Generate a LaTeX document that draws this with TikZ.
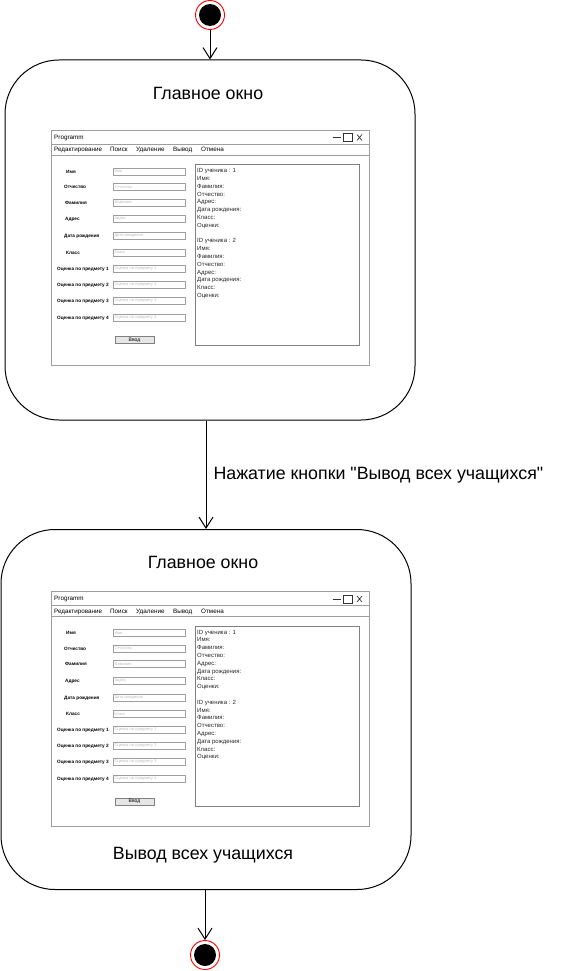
\documentclass[tikz,border=0pt]{standalone}
\usepackage{fontspec}
\setmainfont{Liberation Sans}
% straight double quotes are kept as typed in this family
\newfontfamily\quotefont{Liberation Sans}[Ligatures=TeXOff]
\usetikzlibrary{arrows.meta}

\definecolor{frame}{HTML}{9E9E9E}
\definecolor{boxline}{HTML}{808080}
\definecolor{hint}{HTML}{BDBDBD}
\definecolor{btnfill}{HTML}{E6E6E6}

\tikzset{
  % UML state with large rounded corners
  state/.style={draw=black, line width=1pt, fill=white, rounded corners=54pt,
    minimum width=410pt, minimum height=360pt, inner sep=0pt},
  statetitle/.style={font=\fontsize{17.8}{21}\selectfont, inner sep=0pt},
  % initial / final pseudo-states
  terminal/.style={circle, draw=red, line width=0.9pt, fill=white, minimum size=29pt,
    inner sep=0pt,
    path picture={\fill[black] (path picture bounding box.center) circle (11pt);}},
  flow/.style={draw=black, line width=1pt, -{Straight Barb[length=11pt,width=14pt,line width=1pt]}},
  flowlabel/.style={font=\quotefont\fontsize{17.8}{21}\selectfont, inner sep=0pt},
  % mock-up of the application window
  wintext/.style={font=\fontsize{6.3}{7.5}\selectfont, inner sep=0pt, anchor=base west},
  formlabel/.style={font=\bfseries\fontsize{4.7}{5.5}\selectfont, inner sep=0pt, anchor=base west},
  formfield/.style={draw=frame, line width=0.6pt, minimum width=72pt, minimum height=7pt,
    text width=69pt, align=left, inner sep=1.2pt, text=hint,
    font=\fontsize{4}{4.5}\selectfont},
  formbutton/.style={draw=boxline, line width=0.6pt, fill=btnfill, minimum width=39pt,
    minimum height=7pt, inner sep=0pt, font=\fontsize{5}{6}\selectfont},
  records/.style={font=\fontsize{6}{7.8}\selectfont, align=left, inner sep=0pt,
    text=black!85, anchor=north west},
  appwindow/.pic={
    \draw[frame, line width=0.8pt, fill=white] (0,0) rectangle (318,235);
    % title bar
    \node[wintext] (-title) at (3,9.3) {Programm};
    \draw[black!80, line width=0.7pt] (281.5,7.5) -- (289.5,7.5);
    \draw[black!80, line width=0.7pt] (292.5,3.5) rectangle (301.5,11.5);
    \draw[black!80, line width=0.7pt] (306,4.5) -- (311,10.5) (306,10.5) -- (311,4.5);
    \draw[frame, line width=0.6pt] (0,14) -- (318,14);
    % menu bar
    \node[wintext] (-menu1) at (3,21.8) {Редактирование};
    \node[wintext] (-menu2) at (59,21.8) {Поиск};
    \node[wintext] (-menu3) at (85,21.8) {Удаление};
    \node[wintext] (-menu4) at (122,21.8) {Вывод};
    \node[wintext] (-menu5) at (150,21.8) {Отмена};
    \draw[frame, line width=0.6pt] (0,25) -- (318,25);
    % input form
    \foreach \lab/\lx/\ly [count=\i] in {
        Имя/15/41.5, Отчество/13/57, Фамилия/14/72.5, Адрес/14/89,
        Дата рождения/13/106, Класс/15/122.5,
        Оценка по предмету 1/6/138.5, Оценка по предмету 2/6/154.5,
        Оценка по предмету 3/6/170.5, Оценка по предмету 4/6/187.5}{
      \node[formlabel] (-label\i) at (\lx,\ly+1.7) {\lab};
      \node[formfield] (-field\i) at (98,\ly) {\lab};
    }
    \node[formbutton] (-enter) at (83.5,210) {Ввод};
    % list of pupils
    \draw[boxline, line width=0.7pt] (144,34.5) rectangle (308,215);
    \node[records] (-records) at (146,38.3) {ID ученика : 1\\Имя:\\Фамилия:\\Отчество:\\Адрес:\\Дата рождения:\\Класс:\\Оценки:\\[7.8pt]ID ученика : 2\\Имя:\\Фамилия:\\Отчество:\\Адрес:\\Дата рождения:\\Класс:\\Оценки:};
  }
}

\begin{document}
\begin{tikzpicture}[x=1pt,y=-1pt]
  \useasboundingbox (0,0) rectangle (561,971);

  \node[terminal] (start) at (210,15) {};

  % first state: main window
  \node[state] (s1) at (210,240) {};
  \node[statetitle] (s1title) at (208,93) {Главное окно};
  \pic (w1) at (51,130) {appwindow};

  % second state: main window with all pupils listed
  \node[state] (s2) at (206,709.5) {};
  \node[statetitle] (s2title) at (203,562) {Главное окно};
  \pic (w2) at (51,591.5) {appwindow};
  \node[statetitle] (s2caption) at (203,855) {Вывод всех учащихся};

  \node[terminal] (finish) at (205,955) {};

  % transitions
  \draw[flow] (start) -- (s1);
  \draw[flow] (s1.south -| s2.north) -- node[flowlabel, anchor=west, xshift=7pt] (trigger)
    {Нажатие кнопки "Вывод всех учащихся"} (s2.north);
  \draw[flow] (s2.south -| finish.north) -- (finish);
\end{tikzpicture}
\end{document}
